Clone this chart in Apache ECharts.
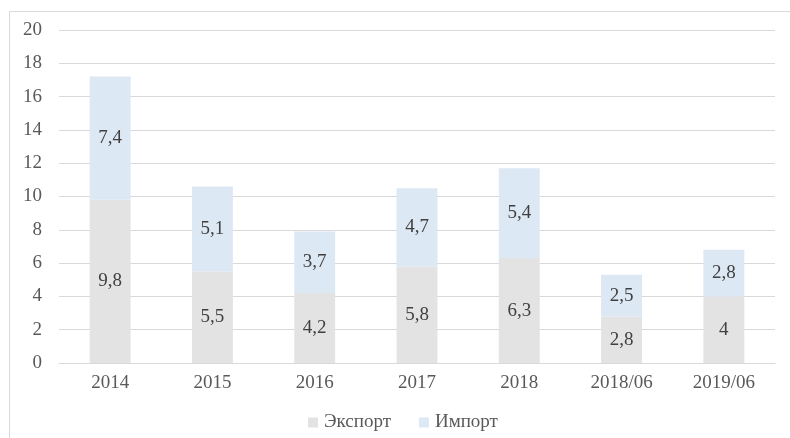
<!DOCTYPE html>
<html><head><meta charset="utf-8">
<script src="https://cdn.jsdelivr.net/npm/echarts@6/dist/echarts.min.js"></script>
<style>html,body{margin:0;padding:0;background:#fff}#c{width:790px;height:438px}</style>
</head><body><div id="c"></div>
<script>
const categories = ['2014','2015','2016','2017','2018','2018/06','2019/06'];
const exportValues = [9.8, 5.5, 4.2, 5.8, 6.3, 2.8, 4];
const importValues = [7.4, 5.1, 3.7, 4.7, 5.4, 2.5, 2.8];
const seriesNames = ['Экспорт', 'Импорт'];
const yTicks = {min: 0, max: 20, interval: 2};

const font = '"Liberation Serif", "DejaVu Serif", serif';
const fmt = p => String(p.value).replace('.', ',');
const chart = echarts.init(document.getElementById('c'));
chart.setOption({
  animation: false,
  textStyle: {fontFamily: font},
  graphic: [{type: 'rect', shape: {x: 9.5, y: 11.5, width: 800, height: 440}, style: {fill: 'none', stroke: '#d9d9d9', lineWidth: 1}, silent: true}],
  grid: {left: 59, right: 15, top: 30, bottom: 75},
  legend: {
    top: 408, left: 303, itemWidth: 10, itemHeight: 10, itemGap: 28, icon: 'rect',
    textStyle: {fontFamily: font, fontSize: 19, color: '#595959', padding: [0, 0, 0, 1]},
    data: seriesNames
  },
  xAxis: {
    type: 'category', data: categories,
    axisLine: {lineStyle: {color: '#d9d9d9'}}, axisTick: {show: false},
    axisLabel: {fontFamily: font, fontSize: 19, color: '#595959', margin: 11}
  },
  yAxis: {
    type: 'value', min: yTicks.min, max: yTicks.max, interval: yTicks.interval,
    axisLine: {show: false}, axisTick: {show: false},
    splitLine: {lineStyle: {color: '#d9d9d9'}},
    axisLabel: {fontFamily: font, fontSize: 19, color: '#595959', margin: 17}
  },
  series: [
    {name: seriesNames[0], type: 'bar', stack: 't', data: exportValues, barWidth: '40%',
     itemStyle: {color: '#e3e3e3'},
     label: {show: true, position: 'inside', formatter: fmt, fontFamily: font, fontSize: 19, color: '#404040'}},
    {name: seriesNames[1], type: 'bar', stack: 't', data: importValues, barWidth: '40%',
     itemStyle: {color: '#dde8f5'},
     label: {show: true, position: 'inside', formatter: fmt, fontFamily: font, fontSize: 19, color: '#404040'}}
  ]
});
</script></body></html>
